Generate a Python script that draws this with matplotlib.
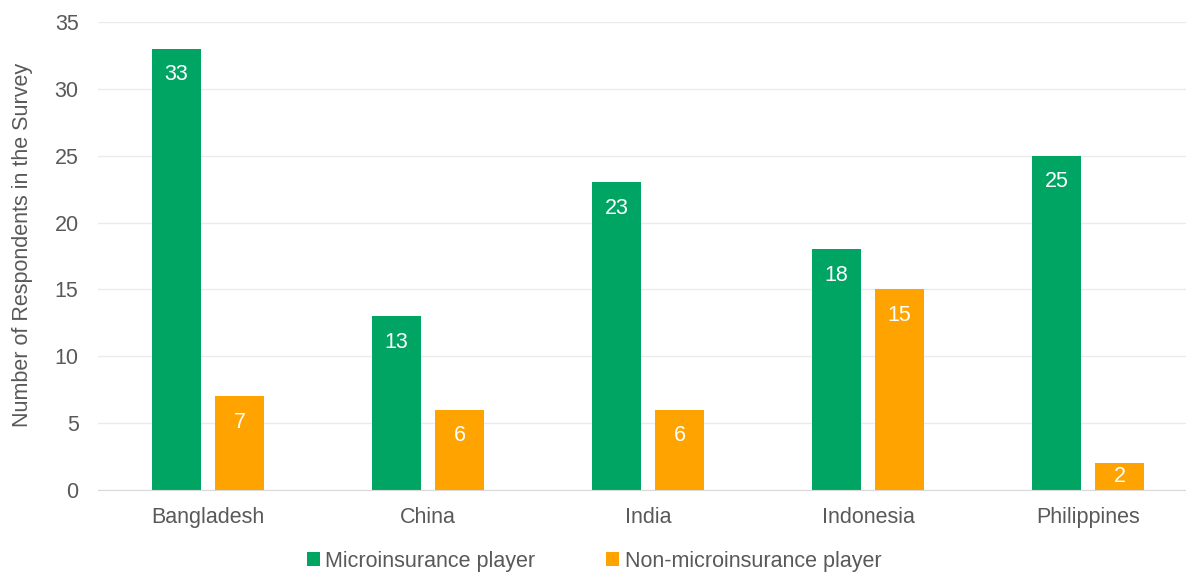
import numpy as np
import matplotlib
matplotlib.use('Agg')
import matplotlib.pyplot as plt

countries = ['Bangladesh', 'China', 'India', 'Indonesia', 'Philippines']
micro = [33, 13, 23, 18, 25]
non_micro = [7, 6, 6, 15, 2]

plt.rcParams['font.family'] = ['Liberation Sans', 'DejaVu Sans']
txt = '#595959'
green = '#00A563'
orange = '#FFA300'
fs = 15.5

fig = plt.figure(figsize=(11.86, 5.72), dpi=100)
ax = fig.add_axes([98/1186, 1 - 490/572, 1100/1186, 468/572])

x = np.arange(len(countries))
width = 0.223
off = 0.143
b1 = ax.bar(x - off, micro, width, color=green, label='Microinsurance player')
b2 = ax.bar(x + off, non_micro, width, color=orange, label='Non-microinsurance player')

# labels sit just inside the bar top, centred for short bars
for bars in (b1, b2):
    for b in bars:
        h = b.get_height()
        ax.text(b.get_x() + b.get_width()/2, max(h - 1.95, h/2), str(int(h)),
                ha='center', va='center', color='white', fontsize=fs)

ax.set_xlim(-0.5, len(countries) - 0.5)
ax.set_ylim(0, 35)
ax.set_yticks(range(0, 36, 5))
ax.set_xticks(x)
ax.set_xticklabels(countries)
ax.tick_params(axis='both', length=0, labelsize=fs, colors=txt)
ax.tick_params(axis='y', pad=14)
ax.tick_params(axis='x', pad=12)
ax.grid(axis='y', color='#EBEBEB', linewidth=1)
ax.set_axisbelow(True)
for s in ['top', 'right', 'left']:
    ax.spines[s].set_visible(False)
ax.spines['bottom'].set_color('#D9D9D9')
ax.set_ylabel('Number of Respondents in the Survey', fontsize=fs, color=txt, va='center')
ax.yaxis.set_label_coords(-0.069, 0.523)

leg = fig.legend(handles=[b1, b2], loc='center', bbox_to_anchor=(594/1186, 1 - 561/572),
                 ncol=2, frameon=False, fontsize=fs, handlelength=0.6, handleheight=0.6,
                 handletextpad=0.25, columnspacing=3.3)
for t in leg.get_texts():
    t.set_color(txt)

plt.savefig('out.png', dpi=100)
